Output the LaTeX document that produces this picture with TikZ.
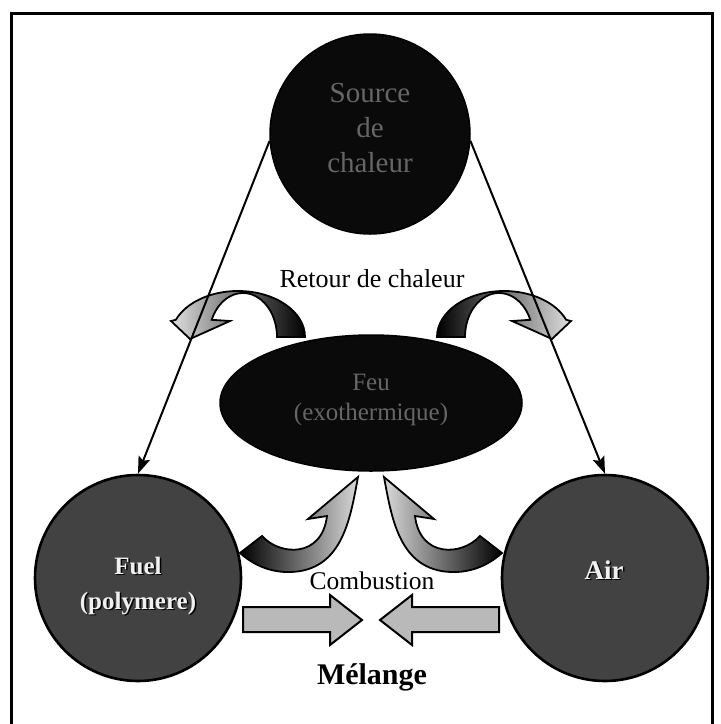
\documentclass[tikz,border=0pt]{standalone}
\usepackage{fontspec}
\setmainfont{Liberation Serif}
\usetikzlibrary{arrows.meta,shapes.geometric}
\begin{document}
\begin{tikzpicture}[x=1pt,y=-1pt,
  conn/.style={line width=2pt, -{Stealth[length=17pt,width=12pt,inset=3pt]}},
  darkblob/.style={draw=black, fill=black!96, line width=1.5pt, inner sep=0pt},
  greyblob/.style={circle, draw=black, fill=black!74, line width=2.6pt, inner sep=0pt, minimum size=206pt},
  curvy/.style={draw=black, line width=1.8pt, line join=miter},
  blockarrow/.style={draw=black, fill=gray!55, line width=2pt, line join=miter},
  engraved/.style={text=black!60, align=center},
  embossed/.style={text=gray!12, align=center, font=\bfseries\fontsize{25}{35}\selectfont},
  embshadow/.style={text=black, align=center, font=\bfseries\fontsize{25}{35}\selectfont},
  caption/.style={text=black, inner sep=0pt},
]
\useasboundingbox (0,0) rectangle (721,724);
\draw[line width=3pt] (11,724) -- (11,13) -- (712,13) -- (712,724);

% retour de chaleur curved arrows
\path[curvy, left color=gray!25, right color=black]
  (305,337) arc[start angle=0,end angle=-158,x radius=67,y radius=46]
  -- (171,321) -- (190,339) -- (230,321) -- (211.7,319.8)
  arc[start angle=-157,end angle=0,x radius=34,y radius=44] -- cycle;
\path[curvy, left color=black, right color=gray!25]
  (437,337) arc[start angle=180,end angle=338,x radius=67,y radius=46]
  -- (571,321) -- (552,339) -- (512,321) -- (530.3,319.8)
  arc[start angle=337,end angle=180,x radius=34,y radius=44] -- cycle;

% combustion curved arrows (fuel/air towards feu)
\path[curvy, left color=black, right color=gray!30]
  (240,553) -- (262,536) .. controls (280,556) and (322,558) .. (327,516)
  -- (308,519) -- (358,477) .. controls (350,520) and (342,574) .. (285,572)
  .. controls (265,571) and (250,562) .. (240,553) -- cycle;
\path[curvy, left color=gray!30, right color=black]
  (502,553) -- (480,536) .. controls (462,556) and (420,558) .. (415,516)
  -- (434,519) -- (384,477) .. controls (392,520) and (400,574) .. (457,572)
  .. controls (477,571) and (492,562) .. (502,553) -- cycle;

% main shapes
\node[circle, darkblob, minimum size=200pt] (src) at (370,134) {};
\node[engraved, font=\fontsize{29}{35}\selectfont] (srct) at (370,128) {Source\\de\\chaleur};
\node[ellipse, darkblob, minimum width=302pt, minimum height=136pt] (feu) at (371,403) {};
\node[engraved, font=\fontsize{25}{30}\selectfont] (feut) at (371,400) {Feu\\(exothermique)};
\node[greyblob] (fuel) at (138,578) {};
\node[greyblob] (air) at (605,578) {};
\node[embshadow] (fuels) at (139.5,587.5) {Fuel\\(polymere)};
\node[embossed] (fuelt) at (138,586) {Fuel\\(polymere)};
\node[embshadow, font=\bfseries\fontsize{27}{30}\selectfont] (airs) at (605.5,571.5) {Air};
\node[embossed, font=\bfseries\fontsize{27}{30}\selectfont] (airt) at (604,570) {Air};

% connectors
\draw[conn] (src.184) -- (fuel.north);
\draw[conn] (src.356) -- (air.north);

% block arrows
\path[blockarrow] (243,607) -- (330,607) -- (330,595) -- (362,620) -- (330,645) -- (330,632) -- (243,632) -- cycle;
\path[blockarrow] (499,607) -- (412,607) -- (412,595) -- (380,620) -- (412,645) -- (412,632) -- (499,632) -- cycle;

% captions
\node[caption, font=\fontsize{26}{30}\selectfont] (retour) at (372,279) {Retour de chaleur};
\node[caption, font=\fontsize{25.5}{30}\selectfont] (comb) at (372,581) {Combustion};
\node[caption, font=\bfseries\fontsize{30}{34}\selectfont] (mel) at (372,677) {Mélange};
\end{tikzpicture}
\end{document}
